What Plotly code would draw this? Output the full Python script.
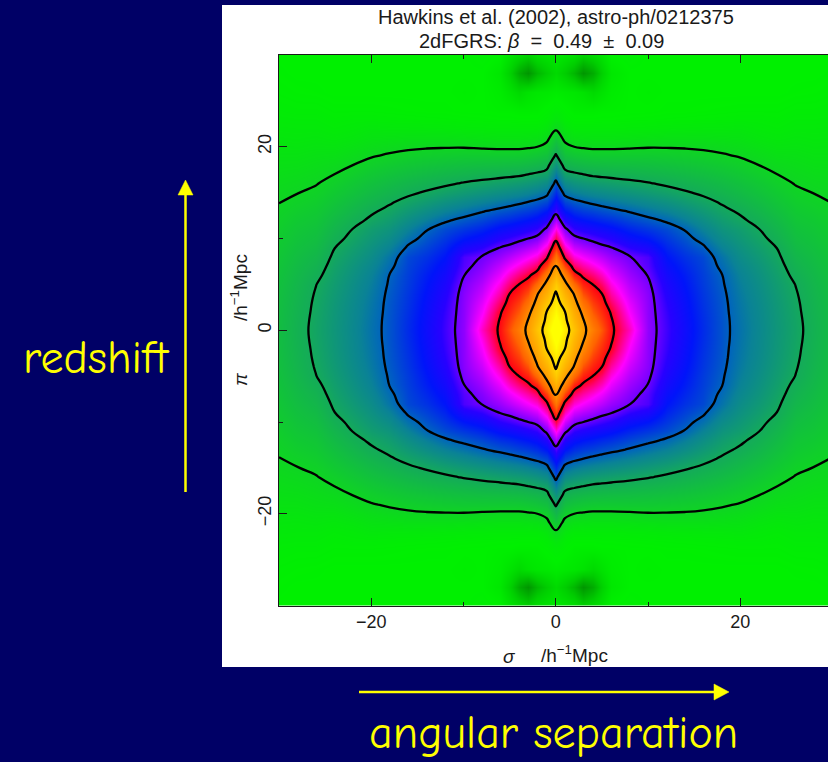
import numpy as np
import plotly.graph_objects as go

# ---------------------------------------------------------------------------
# Data: xi(sigma, pi) of the 2dFGRS, first quadrant, on a log-spaced level
# scale (contour k is drawn at level k).  One list per sigma node, values
# listed along pi_nodes.
# ---------------------------------------------------------------------------
sigma_nodes = [0, 1, 2, 3, 4, 5, 6, 8, 10, 12, 14, 16, 18, 20, 22, 24, 26, 28, 30]
pi_nodes = [0, 1, 2, 3, 4, 5, 6, 7, 8, 9, 10, 11, 12, 13, 14, 15, 16, 17, 18,
            19, 20, 21, 22, 23, 24, 26, 28, 30]

xi_level_by_sigma = [
    [7.80, 7.62, 7.44, 7.25, 7.07, 6.78, 6.41, 6.04, 5.65, 5.27, 4.90, 4.55, 4.21, 3.89, 3.63, 3.37, 3.11, 2.79, 2.43, 2.07, 1.69, 1.31, 0.92, 0.62, 0.48, 0.35, 0.15, 0.30],
    [7.26, 7.13, 7.00, 6.71, 6.43, 6.14, 5.77, 5.32, 4.91, 4.63, 4.34, 4.06, 3.77, 3.49, 3.20, 2.89, 2.54, 2.18, 1.83, 1.48, 1.14, 0.85, 0.62, 0.47, 0.42, 0.32, 0.00, 0.25],
    [6.69, 6.51, 6.34, 6.16, 5.96, 5.56, 5.16, 4.85, 4.59, 4.33, 4.08, 3.83, 3.58, 3.33, 3.08, 2.76, 2.41, 2.07, 1.71, 1.36, 1.00, 0.72, 0.52, 0.42, 0.37, 0.30, -0.20, 0.20],
    [6.11, 6.03, 5.86, 5.63, 5.40, 5.16, 4.93, 4.70, 4.47, 4.23, 4.00, 3.75, 3.50, 3.25, 3.00, 2.67, 2.33, 2.00, 1.64, 1.29, 0.95, 0.70, 0.52, 0.42, 0.36, 0.25, -0.50, 0.05],
    [5.74, 5.59, 5.44, 5.30, 5.15, 5.00, 4.79, 4.57, 4.36, 4.15, 3.93, 3.68, 3.44, 3.20, 2.93, 2.60, 2.27, 1.93, 1.59, 1.24, 0.92, 0.68, 0.52, 0.42, 0.36, 0.15, -0.30, 0.15],
    [5.42, 5.32, 5.21, 5.11, 5.00, 4.81, 4.63, 4.44, 4.26, 4.07, 3.86, 3.62, 3.38, 3.14, 2.87, 2.55, 2.23, 1.90, 1.57, 1.23, 0.92, 0.68, 0.52, 0.43, 0.38, 0.25, 0.05, 0.25],
    [5.07, 5.04, 4.97, 4.84, 4.70, 4.56, 4.42, 4.29, 4.15, 4.01, 3.79, 3.56, 3.33, 3.09, 2.81, 2.50, 2.19, 1.87, 1.55, 1.23, 0.92, 0.68, 0.52, 0.43, 0.38, 0.35, 0.30, 0.40],
    [4.63, 4.55, 4.47, 4.40, 4.32, 4.24, 4.16, 4.08, 4.01, 3.81, 3.60, 3.40, 3.19, 2.97, 2.69, 2.40, 2.11, 1.82, 1.53, 1.24, 0.94, 0.70, 0.53, 0.44, 0.40, 0.40, 0.40, 0.45],
    [4.12, 4.115, 4.11, 4.105, 4.09, 4.05, 3.99, 3.93, 3.90, 3.70, 3.49, 3.29, 3.08, 2.84, 2.57, 2.30, 2.03, 1.76, 1.50, 1.24, 0.97, 0.72, 0.54, 0.45, 0.40, 0.38, 0.40, 0.40],
    [3.86, 3.85, 3.83, 3.80, 3.76, 3.71, 3.65, 3.58, 3.50, 3.40, 3.29, 3.16, 2.95, 2.69, 2.44, 2.18, 1.93, 1.69, 1.45, 1.21, 0.97, 0.74, 0.56, 0.46, 0.42, 0.40, 0.40, 0.40],
    [3.61, 3.60, 3.58, 3.56, 3.53, 3.49, 3.45, 3.39, 3.32, 3.22, 3.11, 2.98, 2.74, 2.51, 2.28, 2.05, 1.83, 1.61, 1.39, 1.17, 0.96, 0.74, 0.57, 0.47, 0.42, 0.40, 0.40, 0.40],
    [3.36, 3.35, 3.33, 3.31, 3.29, 3.26, 3.24, 3.21, 3.18, 3.05, 2.88, 2.69, 2.50, 2.31, 2.12, 1.92, 1.72, 1.52, 1.32, 1.12, 0.93, 0.74, 0.58, 0.48, 0.43, 0.40, 0.40, 0.40],
    [3.11, 3.11, 3.10, 3.09, 3.07, 3.04, 3.01, 2.93, 2.85, 2.70, 2.55, 2.40, 2.25, 2.10, 1.95, 1.77, 1.59, 1.41, 1.23, 1.05, 0.88, 0.72, 0.58, 0.49, 0.44, 0.40, 0.40, 0.40],
    [2.86, 2.85, 2.83, 2.81, 2.78, 2.74, 2.69, 2.62, 2.53, 2.44, 2.34, 2.23, 2.07, 1.94, 1.77, 1.61, 1.45, 1.29, 1.13, 0.97, 0.82, 0.70, 0.60, 0.50, 0.45, 0.40, 0.40, 0.40],
    [2.61, 2.60, 2.59, 2.57, 2.54, 2.50, 2.45, 2.39, 2.31, 2.22, 2.12, 2.01, 1.87, 1.72, 1.58, 1.43, 1.29, 1.14, 1.00, 0.86, 0.74, 0.63, 0.55, 0.50, 0.45, 0.40, 0.40, 0.40],
    [2.36, 2.35, 2.34, 2.32, 2.29, 2.25, 2.20, 2.14, 2.07, 1.99, 1.86, 1.74, 1.62, 1.49, 1.37, 1.25, 1.12, 1.00, 0.88, 0.77, 0.67, 0.59, 0.52, 0.48, 0.45, 0.40, 0.40, 0.40],
    [2.11, 2.10, 2.08, 2.06, 2.03, 1.99, 1.90, 1.81, 1.72, 1.62, 1.53, 1.44, 1.35, 1.26, 1.17, 1.07, 0.98, 0.90, 0.82, 0.75, 0.68, 0.62, 0.56, 0.52, 0.48, 0.42, 0.40, 0.40],
    [1.84, 1.83, 1.81, 1.79, 1.76, 1.72, 1.67, 1.61, 1.55, 1.48, 1.41, 1.34, 1.26, 1.17, 1.08, 0.99, 0.91, 0.84, 0.77, 0.71, 0.65, 0.60, 0.56, 0.52, 0.48, 0.43, 0.40, 0.40],
    [1.56, 1.55, 1.54, 1.52, 1.50, 1.47, 1.43, 1.39, 1.34, 1.29, 1.23, 1.17, 1.11, 1.05, 0.99, 0.93, 0.87, 0.81, 0.76, 0.71, 0.66, 0.61, 0.57, 0.53, 0.50, 0.45, 0.42, 0.40],
]

contour_levels = [1, 2, 3, 4, 5, 6, 7]

# colour ramp on the level scale: dark green (negative xi) -> green -> blue
# -> magenta -> red -> orange -> yellow
level_colors = [
    (-1.0, "rgb(0,95,0)"),
    (-0.5, "rgb(0,150,0)"),
    (0.0, "rgb(0,205,0)"),
    (0.4, "rgb(0,240,0)"),
    (1.0, "rgb(15,212,35)"),
    (2.0, "rgb(20,170,90)"),
    (2.7, "rgb(10,130,150)"),
    (3.0, "rgb(0,100,190)"),
    (3.5, "rgb(0,20,250)"),
    (3.8, "rgb(40,0,255)"),
    (4.0, "rgb(110,0,255)"),
    (4.5, "rgb(255,0,255)"),
    (4.8, "rgb(255,0,120)"),
    (5.0, "rgb(255,0,20)"),
    (5.5, "rgb(255,100,0)"),
    (6.0, "rgb(255,150,0)"),
    (7.0, "rgb(255,215,0)"),
    (7.5, "rgb(255,255,0)"),
    (8.0, "rgb(255,255,0)"),
]

sp = "&nbsp;"
title_lines = ["Hawkins et al. (2002), astro-ph/0212375",
               f"2dFGRS: <i>β</i>{sp} ={sp} 0.49{sp} ±{sp} 0.09"]
tick_values = [-20, 0, 20]
minor_tick_values = [-30, -10, 10, 30]

# ---------------------------------------------------------------------------
W, H = 828, 762


def px(x):
    return x / W


def py(y):
    return 1 - y / H


# the measurement is symmetric in sigma and pi: reflect the quadrant
quad = np.array(xi_level_by_sigma).T          # rows: pi, cols: sigma
full = np.concatenate([quad[:, :0:-1], quad], axis=1)
full = np.concatenate([full[:0:-1, :], full], axis=0)
x_full = [-s for s in sigma_nodes[:0:-1]] + sigma_nodes
y_full = [-p for p in pi_nodes[:0:-1]] + pi_nodes

zmin, zmax = level_colors[0][0], level_colors[-1][0]
colorscale = [[(v - zmin) / (zmax - zmin), c] for v, c in level_colors]

fig = go.Figure()
fig.add_trace(go.Heatmap(
    x=x_full, y=y_full, z=full, zmin=zmin, zmax=zmax,
    colorscale=colorscale, zsmooth="best", showscale=False, hoverinfo="skip",
))
fig.add_trace(go.Contour(
    x=x_full, y=y_full, z=full,
    contours=dict(start=contour_levels[0], end=contour_levels[-1],
                  size=contour_levels[1] - contour_levels[0], coloring="none"),
    line=dict(color="black", width=2.3, smoothing=1.3),
    showscale=False, hoverinfo="skip",
))

ink = "#1a1a1a"
axis_font = dict(family="Liberation Sans, Arial, sans-serif", size=18, color=ink)
common = dict(
    tickmode="array", tickvals=tick_values,
    ticks="inside", ticklen=8, tickwidth=1, tickcolor=ink,
    minor=dict(tickmode="array", tickvals=minor_tick_values, ticks="inside",
               ticklen=4, tickwidth=1, tickcolor=ink),
    showgrid=False, zeroline=False, showline=True, linecolor=ink,
    linewidth=1, tickfont=axis_font,
)
fig.update_xaxes(domain=[px(279), 1], range=[-30, 29.5], mirror="ticks", **common)
fig.update_yaxes(domain=[py(605.5), py(55)], range=[-30, 30], mirror=False,
                 tickangle=-90, **common)

yellow = "rgb(255,255,0)"
shapes = [
    dict(type="rect", xref="paper", yref="paper", x0=px(222), x1=1,
         y0=py(667), y1=py(5), fillcolor="white", line=dict(width=0),
         layer="below"),
    # redshift arrow
    dict(type="line", xref="paper", yref="paper", x0=px(185.5), x1=px(185.5),
         y0=py(492), y1=py(194), line=dict(color=yellow, width=2.5)),
    dict(type="path", xref="paper", yref="paper",
         path=f"M {px(178)},{py(195)} L {px(193)},{py(195)} L {px(185.5)},{py(180)} Z",
         fillcolor=yellow, line=dict(color=yellow, width=0.5)),
    # angular-separation arrow
    dict(type="line", xref="paper", yref="paper", x0=px(359), x1=px(715),
         y0=py(692), y1=py(692), line=dict(color=yellow, width=2.5)),
    dict(type="path", xref="paper", yref="paper",
         path=f"M {px(714)},{py(684)} L {px(714)},{py(700)} L {px(729)},{py(692)} Z",
         fillcolor=yellow, line=dict(color=yellow, width=0.5)),
]

label_font = dict(family="Liberation Sans, Arial, sans-serif", size=19, color=ink)
title_font = dict(family="Liberation Sans, Arial, sans-serif", size=20, color=ink)
slide_font = dict(family="Comic Sans MS, Comic Neue, Noto Sans, sans-serif",
                  size=46, color=yellow)
annotations = [
    dict(text=title_lines[0], x=px(556), y=py(17), font=title_font),
    dict(text=title_lines[1], x=px(541), y=py(41), font=title_font),
    dict(text="<i>σ</i>", x=px(510), y=py(656), font=label_font),
    dict(text="/h<sup>−1</sup>Mpc", x=px(574), y=py(654), font=label_font),
    dict(text="<i>π</i>", x=px(241), y=py(379), font=label_font, textangle=-90),
    dict(text="/h<sup>−1</sup>Mpc", x=px(239), y=py(288), font=label_font,
         textangle=-90),
    dict(text="redshift", x=px(96), y=py(358), font=slide_font),
    dict(text="angular separation", x=px(553), y=py(733), font=slide_font),
]
for a in annotations:
    a.update(xref="paper", yref="paper", showarrow=False,
             xanchor="center", yanchor="middle")

fig.update_layout(
    width=W, height=H, margin=dict(l=0, r=0, t=0, b=0),
    paper_bgcolor="#000066", plot_bgcolor="white",
    shapes=shapes, annotations=annotations, showlegend=False,
)

fig.write_html("out.html")
